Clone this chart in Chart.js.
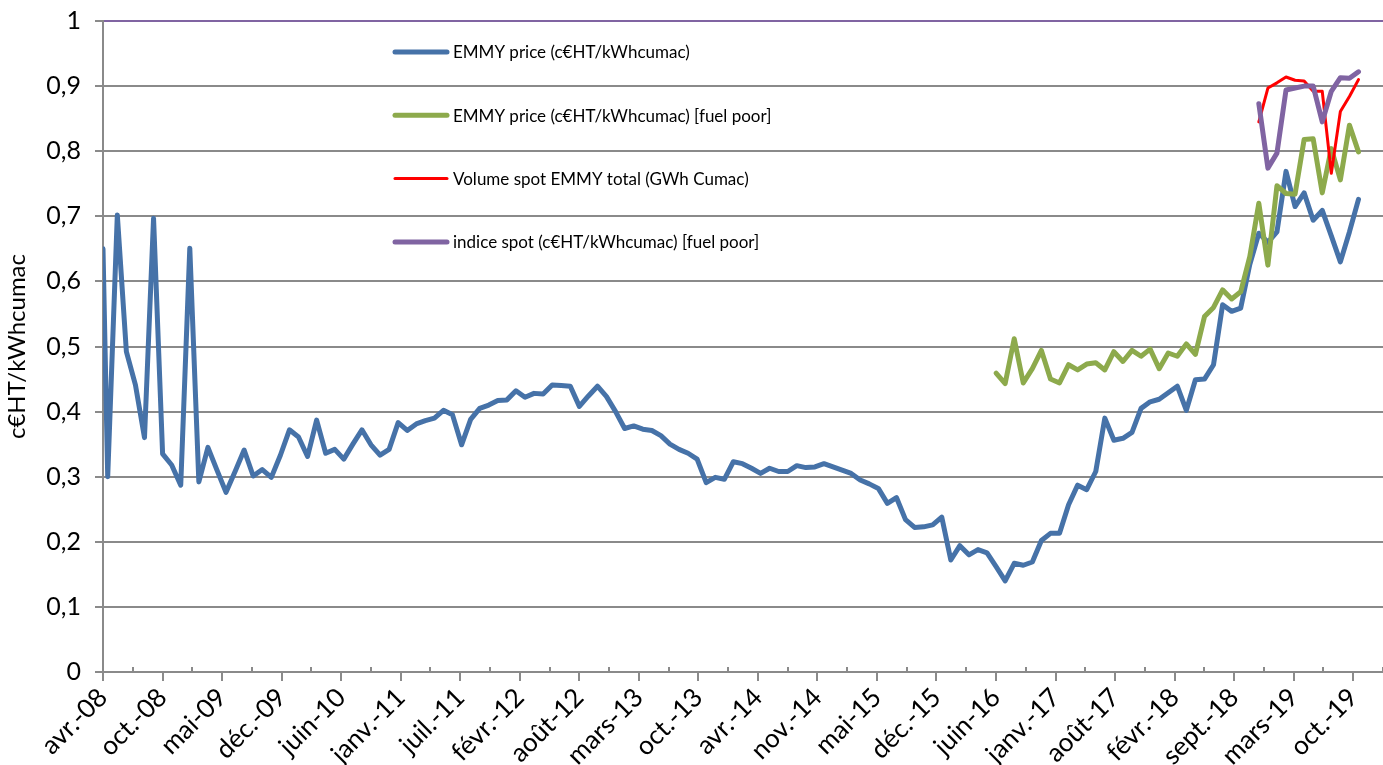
<!DOCTYPE html>
<html>
<head>
<meta charset="utf-8">
<script src="https://cdn.jsdelivr.net/npm/chart.js@4.4.1/dist/chart.umd.min.js"></script>
<style>
  html, body { margin: 0; padding: 0; background: #fff; }
</style>
</head>
<body>
<canvas id="chart" width="1383" height="765"></canvas>
<script>
// x axis tick labels (evenly spaced, last one is oct.-19 = 138 months after avr.-08)
const tickLabels = ["avr.-08", "oct.-08", "mai-09", "déc.-09", "juin-10", "janv.-11", "juil.-11",
  "févr.-12", "août-12", "mars-13", "oct.-13", "avr.-14", "nov.-14", "mai-15", "déc.-15",
  "juin-16", "janv.-17", "août-17", "févr.-18", "sept.-18", "mars-19", "oct.-19"];
const monthsPerTick = 138 / 21;

// dates as months after 1 April 2008: two readings in April 2008, then one per month
const months = [0, 0.52];
for (let k = 0; k < 138; k++) months.push(1.58 + k);

const emmyPrice = [0.650, 0.300,
  0.702, 0.492, 0.441, 0.360, 0.697, 0.335, 0.318, 0.287, 0.651, 0.292,
  0.345, 0.310, 0.276, 0.308, 0.341, 0.301, 0.311, 0.299, 0.333, 0.372,
  0.361, 0.331, 0.387, 0.336, 0.342, 0.327, 0.350, 0.372, 0.349, 0.333,
  0.342, 0.383, 0.371, 0.381, 0.386, 0.390, 0.402, 0.395, 0.349, 0.388,
  0.405, 0.410, 0.417, 0.418, 0.432, 0.422, 0.428, 0.427, 0.441, 0.440,
  0.439, 0.408, 0.424, 0.439, 0.423, 0.400, 0.374, 0.378, 0.373, 0.371,
  0.363, 0.350, 0.342, 0.336, 0.327, 0.291, 0.299, 0.296, 0.323, 0.320,
  0.313, 0.305, 0.313, 0.308, 0.308, 0.317, 0.314, 0.315, 0.320, 0.315,
  0.310, 0.305, 0.295, 0.289, 0.282, 0.259, 0.268, 0.234, 0.222, 0.223,
  0.226, 0.238, 0.172, 0.194, 0.180, 0.188, 0.183, 0.162, 0.140, 0.167,
  0.164, 0.169, 0.202, 0.213, 0.213, 0.257, 0.287, 0.280, 0.308, 0.390,
  0.356, 0.359, 0.368, 0.405, 0.415, 0.419, 0.429, 0.439, 0.402, 0.449,
  0.450, 0.472, 0.564, 0.554, 0.559, 0.626, 0.674, 0.660, 0.676, 0.769,
  0.715, 0.736, 0.694, 0.709, 0.670, 0.630, 0.676, 0.726];

// fuel poor price starts at index 99 (juin-16)
const fuelPoorStart = 99;
const emmyFuelPoor = [
  0.459, 0.443, 0.512, 0.444, 0.466, 0.494, 0.450, 0.444, 0.472, 0.464,
  0.473, 0.475, 0.464, 0.492, 0.477, 0.494, 0.485, 0.496, 0.466, 0.490,
  0.485, 0.504, 0.488, 0.546, 0.560, 0.587, 0.573, 0.584, 0.638, 0.720,
  0.625, 0.747, 0.735, 0.734, 0.818, 0.819, 0.736, 0.804, 0.756, 0.840,
  0.799];

// spot series start at index 128 (oct.-18)
const spotStart = 128;
const volumeSpot = [0.845, 0.897, 0.905, 0.914, 0.909, 0.908, 0.892, 0.892, 0.766, 0.861, 0.884, 0.910];
const indiceSpot = [0.873, 0.774, 0.797, 0.894, 0.897, 0.900, 0.900, 0.845, 0.892, 0.913, 0.912, 0.922];

const seriesNames = ["EMMY price (c€HT/kWhcumac)", "EMMY price (c€HT/kWhcumac) [fuel poor]",
  "Volume spot EMMY total (GWh Cumac)", "indice spot (c€HT/kWhcumac) [fuel poor]"];
const seriesColors = ["#4672A8", "#8DAA4C", "#FF0000", "#8064A2"];

function toPoints(values, start) {
  return values.map((v, i) => ({ x: months[start + i], y: v }));
}

const gridGrey = "#8a8a8a";
const font = "Lato";

const minorTicks = {
  id: "minorTicks",
  afterDraw(chart) {
    const x = chart.scales.x, ctx = chart.ctx, y0 = chart.chartArea.bottom;
    ctx.save();
    ctx.strokeStyle = gridGrey;
    ctx.lineWidth = 2;
    for (let i = 0; i < tickLabels.length; i++) {
      const px = Math.round(x.getPixelForValue((i + 0.5) * monthsPerTick));
      ctx.beginPath();
      ctx.moveTo(px, y0);
      ctx.lineTo(px, y0 - 5);
      ctx.stroke();
    }
    ctx.restore();
  }
};

// legend drawn inside the plot, one row per gridline band
const insideLegend = {
  id: "insideLegend",
  afterDraw(chart) {
    const ctx = chart.ctx;
    ctx.save();
    ctx.font = "17px " + font;
    ctx.textBaseline = "middle";
    ctx.fillStyle = "#000";
    chart.data.datasets.forEach((ds, i) => {
      const y = 52 + i * 63.3;
      ctx.strokeStyle = ds.borderColor;
      ctx.lineWidth = ds.borderWidth;
      ctx.lineCap = "round";
      ctx.beginPath();
      ctx.moveTo(395, y);
      ctx.lineTo(447, y);
      ctx.stroke();
      ctx.fillText(ds.label, 453, y + 1);
    });
    ctx.restore();
  }
};

new Chart(document.getElementById("chart"), {
  type: "line",
  data: {
    datasets: [
      { label: seriesNames[0], data: toPoints(emmyPrice, 0), borderColor: seriesColors[0], borderWidth: 5, order: 4 },
      { label: seriesNames[1], data: toPoints(emmyFuelPoor, fuelPoorStart), borderColor: seriesColors[1], borderWidth: 5, order: 3 },
      { label: seriesNames[2], data: toPoints(volumeSpot, spotStart), borderColor: seriesColors[2], borderWidth: 3, order: 2 },
      { label: seriesNames[3], data: toPoints(indiceSpot, spotStart), borderColor: seriesColors[3], borderWidth: 5, order: 1 }
    ]
  },
  options: {
    responsive: false,
    animation: false,
    elements: {
      point: { radius: 0 },
      line: { tension: 0, borderJoinStyle: "round", borderCapStyle: "round", fill: false }
    },
    layout: { padding: { top: 21, right: 0, left: 0, bottom: 0 } },
    plugins: { legend: { display: false }, tooltip: { enabled: false } },
    scales: {
      x: {
        type: "linear",
        min: 0,
        max: 21.5 * monthsPerTick,
        afterBuildTicks: s => { s.ticks = tickLabels.map((_, i) => ({ value: i * monthsPerTick })); },
        afterFit: s => { s.height = 93; s.paddingLeft = 0; s.paddingRight = 0; },
        border: { color: gridGrey, width: 2 },
        grid: { drawOnChartArea: false, drawTicks: true, tickLength: 9, color: gridGrey, lineWidth: 2 },
        ticks: {
          autoSkip: false,
          minRotation: 45,
          maxRotation: 45,
          padding: 1,
          color: "#000",
          font: { family: font, size: 26 },
          callback: (v, i) => tickLabels[i]
        }
      },
      y: {
        min: 0,
        max: 1,
        afterFit: s => { s.width = 103; s.paddingTop = 0; s.paddingBottom = 0; },
        border: { color: gridGrey, width: 2 },
        grid: {
          color: c => (c.tick && c.tick.value === 1 ? "#8064A2" : gridGrey),
          lineWidth: 2,
          tickLength: 8,
          tickColor: gridGrey
        },
        ticks: {
          stepSize: 0.1,
          padding: 14,
          color: "#000",
          font: { family: font, size: 25 },
          callback: v => String(Number(v.toFixed(1))).replace(".", ",")
        },
        title: {
          display: true,
          text: "c€HT/kWhcumac",
          color: "#000",
          font: { family: font, size: 24 },
          padding: { top: 3, bottom: 0 }
        }
      }
    }
  },
  plugins: [minorTicks, insideLegend]
});
</script>
</body>
</html>
